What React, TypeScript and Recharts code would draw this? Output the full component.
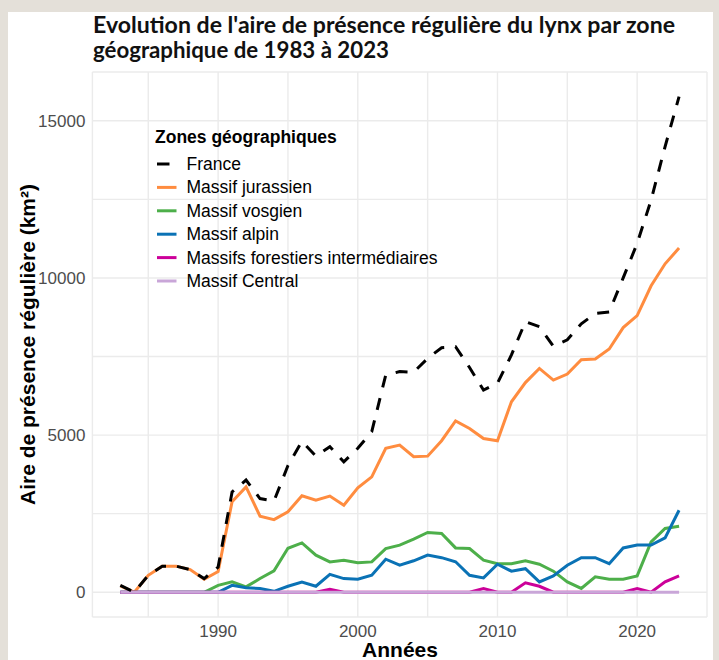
import React from 'react';
import { LineChart, Line, XAxis, YAxis, CartesianGrid } from 'recharts';

const years = [
  1983, 1984, 1985, 1986, 1987, 1988, 1989, 1990, 1991, 1992, 1993, 1994, 1995, 1996,
  1997, 1998, 1999, 2000, 2001, 2002, 2003, 2004, 2005, 2006, 2007, 2008, 2009, 2010,
  2011, 2012, 2013, 2014, 2015, 2016, 2017, 2018, 2019, 2020, 2021, 2022, 2023,
];

const france = [
  220, 0, 540, 830, 830, 720, 435, 800, 3190, 3570, 2980, 2900, 4030, 4800,
  4330, 4630, 4150, 4580, 5110, 6910, 7020, 7000, 7440, 7780, 7810, 7150, 6430, 6650,
  7550, 8610, 8450, 7830, 8030, 8540, 8870, 8920, 10000, 11100, 12480, 14180, 15770,
];

const jurassien = [
  200, 0, 540, 830, 830, 720, 410, 660, 2880, 3350, 2420, 2310, 2560, 3070,
  2930, 3060, 2770, 3320, 3670, 4580, 4680, 4310, 4330, 4820, 5450, 5210, 4890, 4820,
  6060, 6670, 7120, 6750, 6940, 7400, 7420, 7740, 8420, 8800, 9750, 10450, 10950,
];

const vosgien = [
  0, 0, 0, 0, 0, 0, 0, 220, 330, 170, 435, 680, 1400, 1570,
  1180, 965, 1020, 935, 965, 1390, 1500, 1690, 1900, 1870, 1410, 1390, 1020, 910,
  910, 1000, 890, 670, 330, 120, 490, 415, 415, 520, 1600, 2030, 2100,
];

const alpin = [
  0, 0, 0, 0, 0, 0, 0, 0, 220, 140, 120, 30, 190, 320,
  190, 570, 435, 415, 540, 1050, 860, 1000, 1180, 1100, 970, 540, 455, 890,
  670, 750, 330, 520, 860, 1100, 1100, 910, 1410, 1500, 1500, 1730, 2610,
];

const forestiers = [
  0, 0, 0, 0, 0, 0, 0, 0, 0, 0, 0, 0, 0, 0,
  0, 90, 0, 0, 0, 0, 0, 0, 0, 0, 0, 0, 120, 0,
  0, 300, 190, 0, 0, 0, 0, 0, 0, 120, 0, 330, 520,
];

const central = [
  0, 0, 0, 0, 0, 0, 0, 0, 0, 0, 0, 0, 0, 0,
  0, 0, 0, 0, 0, 0, 0, 0, 0, 0, 0, 0, 0, 0,
  0, 0, 0, 0, 0, 0, 0, 0, 0, 0, 0, 0, 0,
];

const xTicks = [1985, 1990, 1995, 2000, 2005, 2010, 2015, 2020, 2025];
const xLabels = [1990, 2000, 2010, 2020];
const yTicks = [0, 2500, 5000, 7500, 10000, 12500, 15000];
const yLabels = [0, 5000, 10000, 15000];

const title1 = "Evolution de l'aire de présence régulière du lynx par zone";
const title2 = 'géographique de 1983 à 2023';
const yTitle = 'Aire de présence régulière (km²)';
const xTitle = 'Années';
const legendTitle = 'Zones géographiques';

const series = [
  { key: 'jurassien', name: 'Massif jurassien', color: '#FF8C3F', values: jurassien, dash: undefined as string | undefined },
  { key: 'vosgien', name: 'Massif vosgien', color: '#4DAF4A', values: vosgien, dash: undefined },
  { key: 'alpin', name: 'Massif alpin', color: '#0A72B5', values: alpin, dash: undefined },
  { key: 'forestiers', name: 'Massifs forestiers intermédiaires', color: '#CC0099', values: forestiers, dash: undefined },
  { key: 'central', name: 'Massif Central', color: '#C9A6D8', values: central, dash: undefined },
  { key: 'france', name: 'France', color: '#000000', values: france, dash: '12 11' },
];

const legendOrder = ['france', 'jurassien', 'vosgien', 'alpin', 'forestiers', 'central'];

const rows = years.map((year, i) => {
  const r: Record<string, number> = { year };
  series.forEach((s) => {
    r[s.key] = s.values[i];
  });
  return r;
});

const W = 719;
const H = 660;
const sans = "'Liberation Sans', Arial, sans-serif";

export default function App() {
  return (
    <div style={{ position: 'absolute', left: 0, top: 0, width: W, height: H, background: '#E4E0D9', overflow: 'hidden' }}>
      <div style={{ position: 'absolute', left: 8, top: 12, width: 705, height: 648, background: '#ffffff' }} />
      <div style={{ position: 'absolute', left: 0, top: 0 }}>
        <LineChart width={W} height={H} data={rows} margin={{ top: 72, right: 12, bottom: 0, left: 0 }}>
          <CartesianGrid stroke="#EBEBEB" strokeWidth={1.4} />
          <XAxis
            dataKey="year"
            type="number"
            domain={[1981, 2025]}
            ticks={xTicks}
            interval={0}
            allowDataOverflow
            tickFormatter={(v: number) => (xLabels.includes(v) ? String(v) : '')}
            axisLine={false}
            tickLine={false}
            tickSize={0}
            tickMargin={8}
            height={43}
            tick={{ fill: '#4D4D4D', fontSize: 17, fontFamily: sans }}
          />
          <YAxis
            type="number"
            domain={[-788, 16552]}
            ticks={yTicks}
            interval={0}
            allowDataOverflow
            tickFormatter={(v: number) => (yLabels.includes(v) ? String(v) : '')}
            axisLine={false}
            tickLine={false}
            tickSize={0}
            tickMargin={7}
            width={92.4}
            tick={{ fill: '#4D4D4D', fontSize: 17, fontFamily: sans }}
          />
          {series.map((s) => (
            <Line
              key={s.key}
              dataKey={s.key}
              name={s.name}
              type="linear"
              stroke={s.color}
              strokeWidth={3}
              strokeDasharray={s.dash}
              dot={false}
              activeDot={false}
              isAnimationActive={false}
            />
          ))}
        </LineChart>
      </div>
      <svg width={W} height={H} style={{ position: 'absolute', left: 0, top: 0, pointerEvents: 'none' }}>
        <text x={93} y={33} fontFamily="Lato, sans-serif" fontWeight="bold" fontSize={22} fill="#111" textLength={582} lengthAdjust="spacingAndGlyphs">
          {title1}
        </text>
        <text x={93} y={58} fontFamily="Lato, sans-serif" fontWeight="bold" fontSize={22} fill="#111" textLength={296} lengthAdjust="spacingAndGlyphs">
          {title2}
        </text>
        <text transform="translate(35,344.5) rotate(-90)" textAnchor="middle" fontFamily={sans} fontWeight="bold" fontSize={21} fill="#000">
          {yTitle}
        </text>
        <text x={400} y={657} textAnchor="middle" fontFamily={sans} fontWeight="bold" fontSize={21} fill="#000">
          {xTitle}
        </text>
        <text x={155} y={137} dominantBaseline="central" fontFamily={sans} fontWeight="bold" fontSize={17.5} fill="#000">
          {legendTitle}
        </text>
        {legendOrder.map((k, i) => {
          const s = series.find((q) => q.key === k)!;
          const cy = 164 + i * 23.4;
          return (
            <g key={k}>
              <line x1={157} x2={s.dash ? 169.5 : 176.5} y1={cy} y2={cy} stroke={s.color} strokeWidth={3} />
              <text x={186.5} y={cy} dominantBaseline="central" fontFamily={sans} fontSize={17.5} fill="#000">
                {s.name}
              </text>
            </g>
          );
        })}
      </svg>
    </div>
  );
}
